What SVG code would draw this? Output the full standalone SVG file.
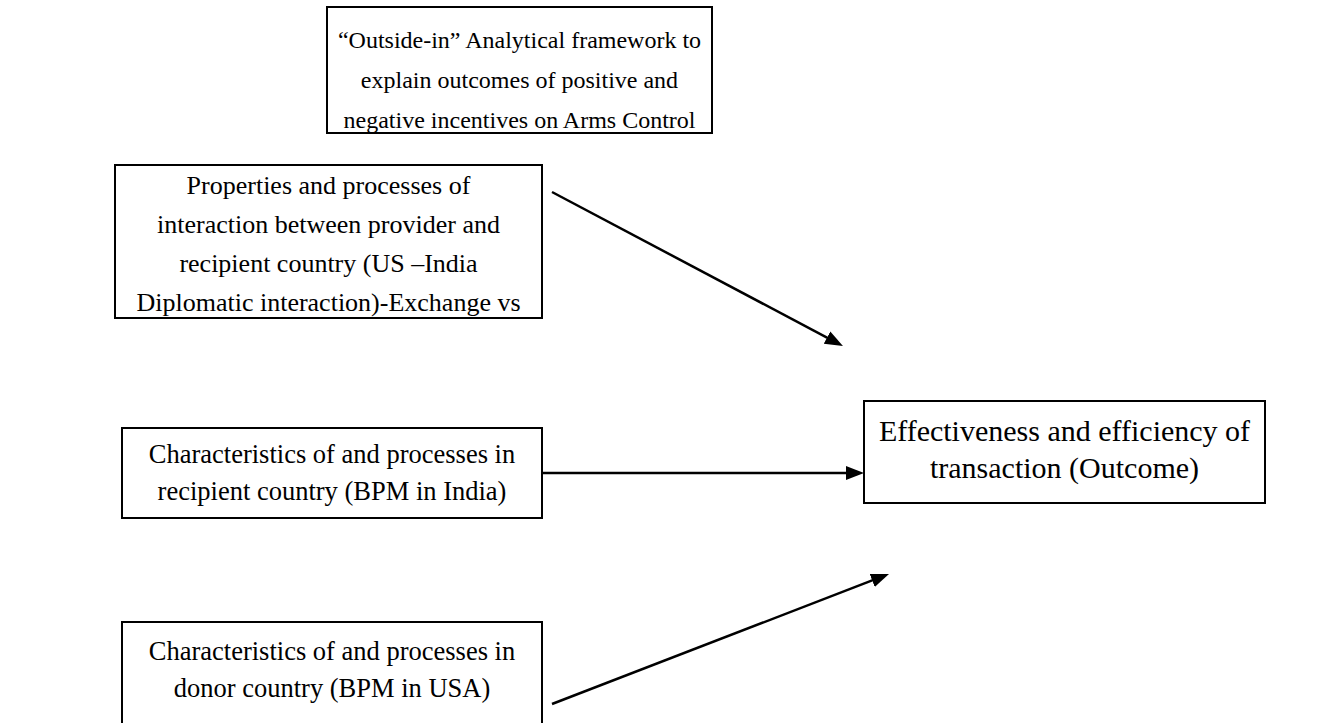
<svg xmlns="http://www.w3.org/2000/svg" width="1329" height="723" viewBox="0 0 1329 723">
<style>
.box{fill:#fff;stroke:#000;stroke-width:2}
.t{font-family:"Liberation Serif","Times New Roman",serif;font-size:26.5px;fill:#000;text-anchor:middle}
.t24{font-size:24px}
.t26{font-size:26px}
.t30{font-size:30px}
.conn{stroke:#000;stroke-width:2.5;fill:none;marker-end:url(#ah)}
</style>
<defs>
<marker id="ah" markerUnits="userSpaceOnUse" markerWidth="20" markerHeight="16" refX="9" refY="7" orient="auto">
<path d="M0,0 L18,7 L0,14 Z" fill="#000"/>
</marker>
<clipPath id="c1"><rect x="327" y="7" width="385" height="126"/></clipPath>
<clipPath id="c2"><rect x="115" y="165" width="427" height="153"/></clipPath>
</defs>
<rect width="1329" height="723" fill="#fff"/>
<g id="framework">
<rect class="box" x="327" y="7" width="385" height="126"/>
<g clip-path="url(#c1)">
<text class="t t24" x="519.5" y="48">“Outside-in” Analytical framework to</text>
<text class="t t24" x="519.5" y="88">explain outcomes of positive and</text>
<text class="t t24" x="519.5" y="128">negative incentives on Arms Control</text>
</g>
</g>
<g id="interaction">
<rect class="box" x="115" y="165" width="427" height="153"/>
<g clip-path="url(#c2)">
<text class="t t26" x="328.5" y="194">Properties and processes of</text>
<text class="t t26" x="328.5" y="233">interaction between provider and</text>
<text class="t t26" x="328.5" y="272">recipient country (US –India</text>
<text class="t t26" x="328.5" y="311">Diplomatic interaction)-Exchange vs</text>
</g>
</g>
<g id="recipient">
<rect class="box" x="122" y="428" width="420" height="90"/>
<text class="t" x="332" y="463">Characteristics of and processes in</text>
<text class="t" x="332" y="500">recipient country (BPM in India)</text>
</g>
<g id="donor">
<rect class="box" x="122" y="622" width="420" height="110"/>
<text class="t" x="332" y="660">Characteristics of and processes in</text>
<text class="t" x="332" y="697">donor country (BPM in USA)</text>
</g>
<g id="outcome">
<rect class="box" x="864" y="401" width="401" height="102"/>
<text class="t t30" x="1064.5" y="441">Effectiveness and efficiency of</text>
<text class="t t30" x="1064.5" y="478">transaction (Outcome)</text>
</g>
<g id="connectors">
<line class="conn" x1="552" y1="192" x2="835" y2="341.8"/>
<line class="conn" x1="542" y1="473" x2="855" y2="473"/>
<line class="conn" x1="552" y1="704" x2="880.6" y2="577.2"/>
</g>
</svg>
